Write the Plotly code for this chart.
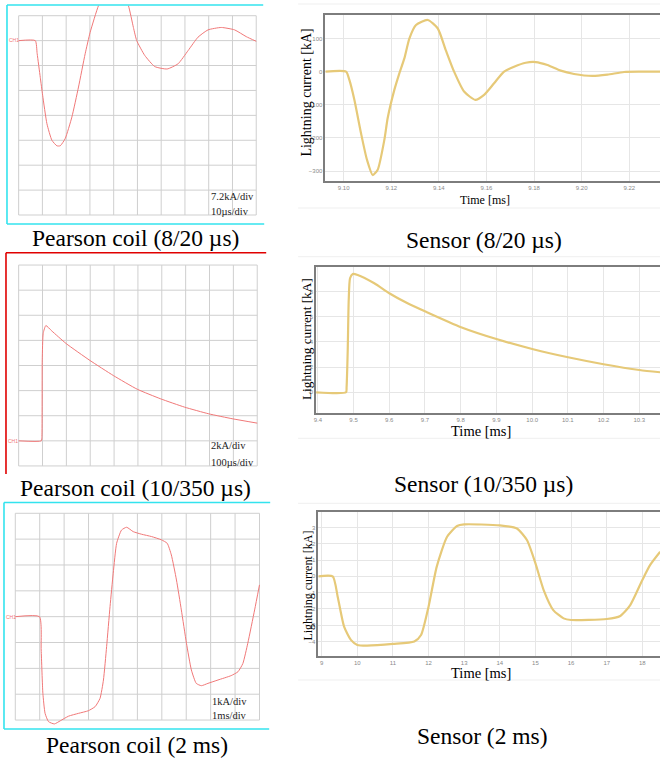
import plotly.graph_objects as go

W, H = 660, 761

# ---------------- data ----------------
# Pearson coil 8/20 us  (time in us, current in kA; 10 us/div, 7.2 kA/div)
p1_t = [0, 7.0, 7.8, 9.1, 10.1, 11.9, 14.0, 16.1, 17.5, 19.6, 22.4, 25.2, 28.0, 30.1, 33.6, 36.5, 40.0,
        43.5, 46.2, 48.3, 49.7, 53.1, 57.3, 62.5, 67.1, 71.3, 75.5, 79.7, 85.3, 90.9, 95.8, 100.0]
p1_i = [0, 0, -3.8, -10.6, -15.8, -24.0, -28.8, -30.4, -30.4, -28.3, -22.1, -13.4, -3.8, 2.4, 10.1, 13.8, 15.3,
        13.8, 10.1, 3.8, 0.0, -4.3, -7.5, -8.2, -6.7, -2.9, 1.0, 3.1, 3.8, 3.1, 1.15, -0.2]

# Sensor 8/20 us (time in ms, current in kA)
s1_t = [9.0923, 9.101, 9.1024, 9.1045, 9.1073, 9.1098, 9.1122, 9.1143, 9.1171, 9.1185, 9.1213, 9.1234,
        9.1255, 9.1276, 9.1304, 9.1353, 9.1395, 9.1429, 9.1464, 9.1506, 9.1553, 9.159, 9.1632, 9.1674,
        9.1716, 9.1765, 9.1807, 9.1856, 9.1912, 9.1968, 9.2045, 9.2108, 9.2178, 9.2248, 9.2332]
s1_i = [0, 0, -25, -85, -186, -266, -312, -296, -206, -140, -55, -5,
        40, 100, 141, 156, 131, 65, 0, -60, -85, -70, -35, 0,
        15, 27, 29, 20, 3, -7, -13, -9, -1, 0, 0]

# Pearson coil 10/350 us (time in us, current in kA; 100 us/div, 2 kA/div)
p2_t = [0, 95, 97.5, 98.9, 103, 114, 139, 199, 299, 397, 497, 596, 696, 797, 898, 1000]
p2_i = [0, 0, 0.35, 6.45, 8.57, 9.18, 8.75, 7.75, 6.4, 5.2, 4.11, 3.34, 2.68, 2.15, 1.75, 1.41]

# Sensor 10/350 us (time in ms, current in kA)
s2_t = [9.3953, 9.479, 9.4805, 9.4837, 9.4865, 9.4902, 9.4977, 9.5116, 9.5581, 9.6, 9.6512, 9.7014, 9.801,
        9.9023, 10.0028, 10.1005, 10.2, 10.3005, 10.3581]
s2_i = [0, 0, 0.4, 3.36, 7.34, 9.06, 9.40, 9.32, 8.66, 7.87, 7.07, 6.41, 5.17,
        4.21, 3.42, 2.78, 2.23, 1.77, 1.59]

# Pearson coil 2 ms (time in ms, current in kA; 1 ms/div, 1 kA/div)
p3_t = [0, 0.99, 1.06, 1.13, 1.22, 1.36, 1.6, 1.84, 2.18, 2.59, 2.99, 3.27, 3.47, 3.61, 3.74, 3.88, 4.01,
        4.15, 4.35, 4.56, 4.83, 5.17, 5.58, 5.99, 6.22, 6.39, 6.6, 6.8, 7.01, 7.21, 7.41, 7.62, 7.89,
        8.3, 8.84, 9.12, 9.32, 9.52, 9.8, 10.0]
p3_i = [0, 0, -1.29, -2.97, -3.74, -4.06, -4.15, -4.03, -3.85, -3.74, -3.64, -3.48, -3.16, -2.45, -1.16, 0.39, 1.68,
        2.84, 3.35, 3.46, 3.29, 3.19, 3.1, 2.97, 2.84, 2.39, 1.42, 0.26, -1.03, -2.06, -2.58, -2.67, -2.58,
        -2.45, -2.28, -2.13, -1.81, -1.03, 0.26, 1.23]

# Sensor 2 ms (time in ms, current in kA)
s3_t = [8.907, 9.31, 9.45, 9.63, 9.82, 10.0, 10.27, 11.0, 11.6, 11.79, 12.0, 12.23, 12.52, 12.8, 13.0,
        14.0, 14.48, 14.76, 15.0, 15.23, 15.5, 15.79, 16.0, 17.0, 17.38, 17.66, 18.0, 18.22, 18.5]
s3_i = [0, 0, -1.25, -3.09, -3.9, -4.21, -4.25, -4.15, -4.0, -3.6, -1.86, 0.6, 2.43, 3.09, 3.19,
        3.13, 2.94, 2.23, 0.8, -0.84, -2.07, -2.58, -2.68, -2.62, -2.43, -1.76, -0.22, 0.7, 1.51]

captions = ["Pearson coil (8/20 µs)", "Sensor (8/20 µs)",
            "Pearson coil (10/350 µs)", "Sensor (10/350 µs)",
            "Pearson coil (2 ms)", "Sensor (2 ms)"]
scale_labels = [("7.2kA/div", "10µs/div"), ("2kA/div", "100µs/div"), ("1kA/div", "1ms/div")]
y_title = "Lightning current [kA]"
x_title = "Time [ms]"

# oscilloscope grids: (x per div, n x-div, y per div, y bottom, y top)
osc_grid = [(10, 10, 7.2, -50.4, 7.2), (100, 10, 2, -2, 14), (1, 10, 1, -4, 4)]

# ---------------- helpers ----------------
def fx(p):
    return p / W

def fy(p):
    return 1 - p / H

SERIF = "Liberation Serif"
RED = "#f07878"
GOLD = "#e6c978"
GRID_OSC = "#cfcfcf"
GRID_S = "#e6e6e6"
FRAME = "#7d7d7d"
CYAN = "#33e3ee"

fig = go.Figure()

osc = [(p1_t, p1_i), (p2_t, p2_i), (p3_t, p3_i)]
sen = [(s1_t, s1_i), (s2_t, s2_i), (s3_t, s3_i)]

for k, (t, i) in enumerate(osc):
    n = 2 * k + 1
    fig.add_trace(go.Scatter(x=t, y=i, mode="lines", line=dict(color=RED, width=1, shape="spline", smoothing=0.5),
                             xaxis=f"x{n}", yaxis=f"y{n}", showlegend=False, hoverinfo="skip"))
for k, (t, i) in enumerate(sen):
    n = 2 * k + 2
    fig.add_trace(go.Scatter(x=t, y=i, mode="lines", line=dict(color=GOLD, width=2.2, shape="spline", smoothing=0.6),
                             xaxis=f"x{n}", yaxis=f"y{n}", showlegend=False, hoverinfo="skip"))

layout = dict(width=W, height=H, margin=dict(l=0, r=0, t=0, b=0, pad=0),
              paper_bgcolor="white", plot_bgcolor="rgba(0,0,0,0)",
              font=dict(family=SERIF, color="black"))

def osc_axes(n, xdom_px, ydom_px, xr, yr):
    layout[f"xaxis{n}"] = dict(domain=[fx(xdom_px[0]), fx(xdom_px[1])], range=xr, anchor=f"y{n}",
                               showgrid=False, zeroline=False, showticklabels=False, showline=False, ticks="")
    layout[f"yaxis{n}"] = dict(domain=[fy(ydom_px[1]), fy(ydom_px[0])], range=yr, anchor=f"x{n}",
                               showgrid=False, zeroline=False, showticklabels=False, showline=False, ticks="")

def sen_axes(n, xdom_px, ydom_px, xr, yr, xdt, xt0, xfmt, ydt):
    tf = dict(size=6, color="#8a8a8a", family="Liberation Sans")
    layout[f"xaxis{n}"] = dict(domain=[fx(xdom_px[0]), fx(xdom_px[1])], range=xr, anchor=f"y{n}",
                               showgrid=True, gridcolor=GRID_S, gridwidth=1, zeroline=False,
                               dtick=xdt, tick0=xt0, tickformat=xfmt, tickfont=tf, ticks="",
                               showline=True, linecolor=FRAME, linewidth=1.6, mirror=True)
    layout[f"yaxis{n}"] = dict(domain=[fy(ydom_px[1]), fy(ydom_px[0])], range=yr, anchor=f"x{n}",
                               showgrid=True, gridcolor=GRID_S, gridwidth=1, zeroline=False,
                               dtick=ydt, tick0=0, tickfont=tf, ticks="",
                               showline=True, linecolor=FRAME, linewidth=1.6, mirror=False)

osc_axes(1, (15.5, 256.2), (5.5, 216.5), [-0.5, 100.5], [-50.83, 10.15])
osc_axes(3, (15.5, 257.2), (263.8, 467.2), [-5, 1005], [-2.1, 14.1])
osc_axes(5, (12.1, 259.5), (512.0, 726.0), [-0.05, 10.05], [-4.23, 4.05])
sen_axes(2, (324.3, 660), (15, 181), [9.0923, 9.2329], [-330, 171], 0.02, 9.10, ".2f", 100)
sen_axes(4, (315, 660), (267.3, 413.3), [9.395, 10.358], [-1.67, 9.93], 0.1, 9.4, ".1f", 2)
sen_axes(6, (317.3, 660), (511.7, 656), [8.907, 18.495], [-4.89, 3.97], 1, 9, "d", 1)

shapes = []
for k, (dx, nx, dy, yb, yt) in enumerate(osc_grid):
    n = 2 * k + 1
    for j in range(nx + 1):
        shapes.append(dict(type="line", xref=f"x{n}", yref=f"y{n}", x0=j * dx, x1=j * dx, y0=yb, y1=yt,
                           line=dict(color=GRID_OSC, width=1), layer="below"))
    ny = int(round((yt - yb) / dy))
    for j in range(ny + 1):
        yy = yb + j * dy
        shapes.append(dict(type="line", xref=f"x{n}", yref=f"y{n}", x0=0, x1=nx * dx, y0=yy, y1=yy,
                           line=dict(color=GRID_OSC, width=1), layer="below"))

def pline(x0, y0, x1, y1, color, width):
    shapes.append(dict(type="line", xref="paper", yref="paper", x0=fx(x0), x1=fx(x1), y0=fy(y0), y1=fy(y1),
                       line=dict(color=color, width=width)))

pline(5, 5, 262, 5, CYAN, 1.6)
pline(5, 5, 5, 224, CYAN, 1.6)
pline(5, 224, 263, 224, CYAN, 1.6)
pline(4, 252.7, 265, 252.7, "#e00000", 1.6)
pline(4, 252.7, 4, 474, "#e00000", 1.6)
pline(2, 502.5, 269, 502.5, CYAN, 1.6)
pline(2, 502.5, 2, 729, CYAN, 1.6)
pline(2, 729, 268, 729, CYAN, 1.6)
for ytop, ybot in [(4, 208), (256.7, 438.3), (503.3, 680)]:
    pline(297, ytop, 660, ytop, "#efefef", 1)
    pline(297, ybot, 660, ybot, "#efefef", 1)

layout["shapes"] = shapes

ann = []
def text(s, x, y, size, color="black", xanchor="center", angle=0, family=SERIF):
    ann.append(dict(text=s, xref="paper", yref="paper", x=fx(x), y=fy(y), xanchor=xanchor, yanchor="middle",
                    showarrow=False, textangle=angle, font=dict(size=size, color=color, family=family)))

cap_pos = [(134, 238), (483, 240), (134, 488), (483, 484), (135, 745), (482, 736)]
for s, (x, y) in zip(captions, cap_pos):
    text(s, x, y, 23.5)

sl_pos = [(207.5, 196.7, 211.7), (207.5, 446, 462), (208.5, 701.7, 715)]
for (a, b), (x, y1, y2) in zip(scale_labels, sl_pos):
    text(a, x, y1, 10.5, "#222", "left")
    text(b, x, y2, 10.5, "#222", "left")

for x, y in [(12, 40), (11, 441), (9, 616.7)]:
    text("CH1", x, y, 5, RED, family="Liberation Sans")

text(y_title, 305, 92.5, 14, angle=-90)
text(x_title, 484, 200, 12)
text(y_title, 305, 339, 13.3, angle=-90)
text(x_title, 480, 430.7, 14.5)
text(y_title, 306.5, 586, 12, angle=-90)
text(x_title, 480.7, 672.7, 14.5)

layout["annotations"] = ann
fig.update_layout(**layout)
fig.write_html("out.html", config={"displayModeBar": False},
               post_script="document.body.style.margin='0';document.body.style.overflow='hidden';")
